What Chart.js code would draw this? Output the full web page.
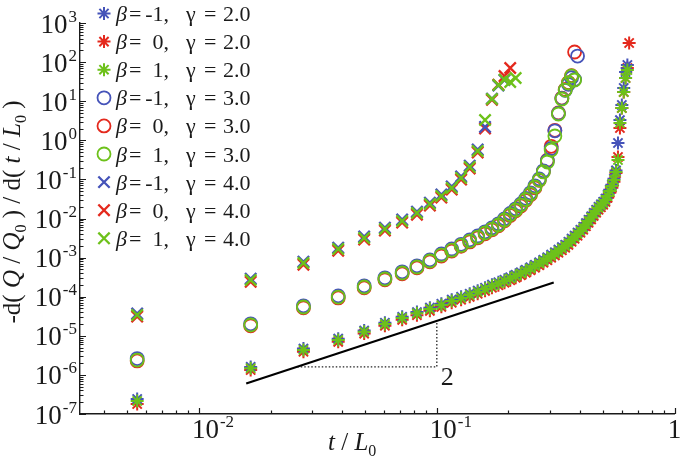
<!DOCTYPE html>
<html>
<head>
<meta charset="utf-8">
<script src="https://cdn.jsdelivr.net/npm/chart.js@4.4.0/dist/chart.umd.min.js"></script>
<style>
  body { margin: 0; background: #fff; }
  #wrap { width: 685px; height: 461px; }
</style>
</head>
<body>
<div id="wrap"><canvas id="chart"></canvas></div>
<script>
// sample times t / L0 (shared by all series)
const tVals = [0.0055, 0.0165, 0.0275, 0.0385, 0.0495, 0.0605, 0.0715, 0.0825, 0.0935, 0.1045,
  0.1155, 0.1265, 0.1375, 0.1485, 0.1595, 0.1705, 0.1815, 0.1925, 0.2035, 0.2145,
  0.2255, 0.2365, 0.2475, 0.2585, 0.2695, 0.2805, 0.2915, 0.3025, 0.3135, 0.3245,
  0.3355, 0.3465, 0.3575, 0.3685, 0.3795, 0.3905, 0.4015, 0.4125, 0.4235, 0.4345,
  0.4455, 0.4565, 0.4675, 0.4785, 0.4895, 0.5005, 0.5115, 0.5225, 0.5335, 0.5445,
  0.5555, 0.5665, 0.5775, 0.5885, 0.5995, 0.6105, 0.6215, 0.6325, 0.6435];

const betaLabels = ['-1', '0', '1'];
const gammaLabels = ['2.0', '3.0', '4.0'];

// gamma = 2.0  (asterisks)
const g2Blue = [2.42e-7, 1.60e-6, 4.70e-6, 8.45e-6, 1.37e-5, 2.16e-5, 3.05e-5, 4.05e-5, 5.25e-5, 6.6e-5,
  8.4e-5, 1.00e-4, 1.19e-4, 1.43e-4, 1.70e-4, 2.03e-4, 2.35e-4, 2.72e-4, 3.15e-4, 3.65e-4,
  4.23e-4, 4.90e-4, 5.68e-4, 6.59e-4, 7.62e-4, 8.83e-4, 1.02e-3, 1.19e-3, 1.37e-3, 1.60e-3,
  1.85e-3, 2.14e-3, 2.55e-3, 3.05e-3, 3.64e-3, 4.34e-3, 5.17e-3, 6.17e-3, 7.6e-3, 9.3e-3,
  1.14e-2, 1.40e-2, 1.68e-2, 2.0e-2, 2.32e-2, 2.69e-2, 3.2e-2, 4.06e-2, 5.45e-2, 7.3e-2,
  0.104, 0.17, 0.853, 3.30, 8.0, 21.8, 55.8, 84.3];
const g2Red = [1.80e-7, 1.33e-6, 3.9e-6, 7.0e-6, 1.14e-5, 1.80e-5, 2.56e-5, 3.37e-5, 4.35e-5, 5.5e-5,
  6.98e-5, 8.34e-5, 9.9e-5, 1.19e-4, 1.41e-4, 1.69e-4, 1.96e-4, 2.27e-4, 2.63e-4, 3.04e-4,
  3.53e-4, 4.09e-4, 4.73e-4, 5.49e-4, 6.35e-4, 7.36e-4, 8.53e-4, 9.9e-4, 1.14e-3, 1.33e-3,
  1.54e-3, 1.78e-3, 2.12e-3, 2.54e-3, 3.03e-3, 3.62e-3, 4.31e-3, 5.14e-3, 6.33e-3, 7.77e-3,
  9.5e-3, 1.17e-2, 1.40e-2, 1.67e-2, 1.94e-2, 2.24e-2, 2.67e-2, 3.38e-2, 4.55e-2, 6.1e-2,
  8.7e-2, 0.145, 0.374, 2.06, 6.7, 17.2, 39.2, 70.6, 308];
const g2Green = [2.15e-7, 1.48e-6, 4.34e-6, 7.81e-6, 1.27e-5, 2.00e-5, 2.85e-5, 3.75e-5, 4.85e-5, 6.1e-5,
  7.76e-5, 9.27e-5, 1.10e-4, 1.32e-4, 1.57e-4, 1.88e-4, 2.18e-4, 2.52e-4, 2.92e-4, 3.38e-4,
  3.92e-4, 4.54e-4, 5.26e-4, 6.10e-4, 7.06e-4, 8.18e-4, 9.48e-4, 1.10e-3, 1.27e-3, 1.48e-3,
  1.71e-3, 1.98e-3, 2.36e-3, 2.82e-3, 3.37e-3, 4.02e-3, 4.79e-3, 5.71e-3, 7.03e-3, 8.63e-3,
  1.06e-2, 1.30e-2, 1.56e-2, 1.86e-2, 2.15e-2, 2.49e-2, 2.97e-2, 3.76e-2, 5.05e-2, 6.78e-2,
  9.66e-2, 0.155, 0.313, 2.77, 6.70, 17.2, 39.2, 62.8];

// gamma = 3.0  (circles)
const g3Blue = [2.62e-6, 2.03e-5, 5.85e-5, 1.05e-4, 1.90e-4, 3.04e-4, 4.32e-4, 6.15e-4, 8.75e-4, 1.24e-3,
  1.66e-3, 2.19e-3, 2.84e-3, 3.58e-3, 4.56e-3, 5.76e-3, 7.3e-3, 9.8e-3, 1.35e-2, 1.77e-2,
  2.36e-2, 3.27e-2, 4.54e-2, 6.85e-2, 0.103, 0.166, 0.30, 0.62, 1.75, 4.9,
  11.8, 19.0, 27.0, 40.0, 36.0, 143];
const g3Red = [2.28e-6, 1.80e-5, 5.2e-5, 9.3e-5, 1.68e-4, 2.70e-4, 3.84e-4, 5.46e-4, 7.77e-4, 1.10e-3,
  1.47e-3, 1.95e-3, 2.52e-3, 3.18e-3, 4.05e-3, 5.11e-3, 6.48e-3, 8.7e-3, 1.20e-2, 1.57e-2,
  2.10e-2, 2.91e-2, 4.03e-2, 6.08e-2, 0.095, 0.16, 0.31, 0.70, 1.80, 5.0,
  12.0, 20.0, 30.0, 45.0, 181];
const g3Green = [2.40e-6, 1.89e-5, 5.46e-5, 9.8e-5, 1.77e-4, 2.84e-4, 4.04e-4, 5.75e-4, 8.18e-4, 1.16e-3,
  1.55e-3, 2.05e-3, 2.65e-3, 3.35e-3, 4.26e-3, 5.38e-3, 6.82e-3, 9.16e-3, 1.26e-2, 1.65e-2,
  2.21e-2, 3.06e-2, 4.24e-2, 6.40e-2, 9.66e-2, 0.155, 0.279, 0.565, 1.29, 4.71,
  11.4, 19.3, 29.2, 44.2, 34.8];

// gamma = 4.0  (crosses)
const g4Blue = [3.7e-5, 2.9e-4, 7.9e-4, 1.8e-3, 3.45e-3, 5.85e-3, 9.4e-3, 1.5e-2, 2.55e-2, 4.1e-2,
  6.6e-2, 0.119, 0.225, 0.58, 2.2, 11.6, 25.0, 34.8];
const g4Red = [3.1e-5, 2.4e-4, 6.6e-4, 1.5e-3, 2.88e-3, 4.9e-3, 7.85e-3, 1.25e-2, 2.14e-2, 3.42e-2,
  5.5e-2, 0.099, 0.19, 0.49, 2.0, 10.8, 26.5, 44, 70.6];
const g4Green = [3.40e-5, 2.67e-4, 7.28e-4, 1.66e-3, 3.17e-3, 5.38e-3, 8.63e-3, 1.38e-2, 2.35e-2, 3.76e-2,
  6.03e-2, 0.109, 0.207, 0.532, 3.30, 11.4, 25.9, 35.5, 31, 39.2];

// slope guide (t^2) and its triangle
const slopeX = [0.0158, 0.31];
const slopeY = [6.0e-7, 2.31e-4];
const triX = [0.0259, 0.1, 0.1];
const triY = [1.61e-6, 1.61e-6, 2.40e-5];
const slopeText = '2';

// axis ticks
const xTickValues = [0.01, 0.1, 1];
const xTickLabels = ['10^-2', '10^-1', '1'];
const yTickValues = [1e-7, 1e-6, 1e-5, 1e-4, 1e-3, 1e-2, 1e-1, 1, 1e1, 1e2, 1e3];
const yTickLabels = ['10^-7', '10^-6', '10^-5', '10^-4', '10^-3', '10^-2', '10^-1', '10^0', '10^1', '10^2', '10^3'];

const colors = ['#4553b9', '#e4291d', '#6dc11a'];
const shapes = ['star', 'circle', 'crossRot'];
const FONT = '"Liberation Serif", "Times New Roman", serif';
const INK = '#1a1a1a';

function markerSet(ys, beta, gamma) {
    var style = shapes[gamma];
    var r = style === 'crossRot' ? 8 : 6.5;
    return {
        label: 'β = ' + betaLabels[beta] + ',  γ = ' + gammaLabels[gamma],
        data: ys.map(function (y, i) { return { x: tVals[i], y: y }; }),
        showLine: false,
        pointStyle: style,
        pointRadius: r,
        pointHoverRadius: r,
        pointBorderWidth: style === 'circle' ? 1.8 : (style === 'star' ? 2 : 2.3),
        borderColor: colors[beta],
        pointBorderColor: colors[beta],
        backgroundColor: style === 'circle' ? 'rgba(0,0,0,0)' : colors[beta],
        pointBackgroundColor: style === 'circle' ? 'rgba(0,0,0,0)' : colors[beta],
        order: [1, 2, 0][beta],
        clip: false
    };
}

function pairs(xs, ys) {
    return xs.map(function (x, i) { return { x: x, y: ys[i] }; });
}

// draws "10^-2" style labels
function powLabel(ctx, label, x, y, align) {
    var parts = label.split('^');
    ctx.font = '27px ' + FONT;
    var wb = ctx.measureText(parts[0]).width;
    ctx.font = '17px ' + FONT;
    var we = parts[1] ? ctx.measureText(parts[1]).width + 1 : 0;
    var x0 = align === 'right' ? x - wb - we : x;
    ctx.textAlign = 'left';
    ctx.font = '27px ' + FONT;
    ctx.fillText(parts[0], x0, y);
    if (parts[1]) {
        ctx.font = '17px ' + FONT;
        ctx.fillText(parts[1], x0 + wb + 1, y - 11);
    }
}

// rich text: pieces of [text, 'n' | 'i' | 's']
function pieceFont(p, size) {
    return (p[1] === 'i' ? 'italic ' : '') + (p[1] === 's' ? Math.round(size * 0.64) : size) + 'px ' + FONT;
}
function richWidth(ctx, parts, size) {
    var w = 0;
    parts.forEach(function (p) {
        ctx.font = pieceFont(p, size);
        w += ctx.measureText(p[0]).width;
    });
    return w;
}
function richText(ctx, parts, x, y, size) {
    var cx = x;
    ctx.textAlign = 'left';
    parts.forEach(function (p) {
        ctx.font = pieceFont(p, size);
        ctx.fillText(p[0], cx, y + (p[1] === 's' ? size * 0.24 : 0));
        cx += ctx.measureText(p[0]).width;
    });
}

const decoPlugin = {
    id: 'deco',
    afterDraw: function (chart) {
        var ctx = chart.ctx;
        var xs = chart.scales.x, ys = chart.scales.y;
        var a = chart.chartArea;
        ctx.save();
        ctx.strokeStyle = INK;
        ctx.fillStyle = INK;
        ctx.lineWidth = 1.2;
        ctx.textBaseline = 'alphabetic';

        // y ticks (inward) + minor
        ctx.beginPath();
        yTickValues.forEach(function (v, i) {
            var py = Math.round(ys.getPixelForValue(v)) + 0.5;
            ctx.moveTo(a.left, py); ctx.lineTo(a.left + 6, py);
            if (i < yTickValues.length - 1) {
                for (var m = 2; m <= 9; m++) {
                    var pm = Math.round(ys.getPixelForValue(v * m)) + 0.5;
                    ctx.moveTo(a.left, pm); ctx.lineTo(a.left + 3.5, pm);
                }
            }
        });
        // x ticks (inward) + minor
        xTickValues.forEach(function (v) {
            var px = Math.round(xs.getPixelForValue(v)) + 0.5;
            ctx.moveTo(px, a.bottom); ctx.lineTo(px, a.bottom - 6);
            for (var m = 2; m <= 9; m++) {
                var val = v * m / 10;
                if (val <= xs.min) continue;
                var pm = Math.round(xs.getPixelForValue(val)) + 0.5;
                ctx.moveTo(pm, a.bottom); ctx.lineTo(pm, a.bottom - 3.5);
            }
        });
        ctx.stroke();

        // tick labels
        yTickValues.forEach(function (v, i) {
            powLabel(ctx, yTickLabels[i], a.left - 3, ys.getPixelForValue(v) + 9.5, 'right');
        });
        xTickValues.forEach(function (v, i) {
            powLabel(ctx, xTickLabels[i], xs.getPixelForValue(v) - 7, a.bottom + 24, 'left');
        });

        // axis titles
        var xt = [['t', 'i'], [' / ', 'n'], ['L', 'i'], ['0', 's']];
        richText(ctx, xt, 328, 450, 25);

        var yt = [['-d( ', 'n'], ['Q', 'i'], [' / ', 'n'], ['Q', 'i'], ['0', 's'], [' ) / d( ', 'n'],
                  ['t', 'i'], [' / ', 'n'], ['L', 'i'], ['0', 's'], [' )', 'n']];
        var yw = richWidth(ctx, yt, 25);
        ctx.save();
        ctx.translate(20, 212);
        ctx.rotate(-Math.PI / 2);
        richText(ctx, yt, -yw / 2, 0, 25);
        ctx.restore();

        // slope label
        ctx.font = '26px ' + FONT;
        ctx.textAlign = 'left';
        ctx.fillText(slopeText, xs.getPixelForValue(triX[2]) + 4, ys.getPixelForValue(triY[1]) + 18);

        // legend
        chart.data.datasets.forEach(function (ds) {
            if (ds.legendBeta === undefined) return;
            var rowY = 13.5 + 28.1 * ds.legendRow;
            ctx.save();
            ctx.strokeStyle = ds.pointBorderColor;
            ctx.fillStyle = ds.pointBackgroundColor;
            ctx.lineWidth = ds.pointBorderWidth;
            Chart.helpers.drawPoint(ctx, {
                pointStyle: ds.pointStyle, rotation: 0,
                radius: ds.pointRadius, borderWidth: ds.pointBorderWidth
            }, 104, rowY);
            ctx.restore();
            ctx.fillStyle = INK;
            var base = rowY + 7.5;
            ctx.textAlign = 'left';
            ctx.font = 'italic 22px ' + FONT;
            ctx.fillText('β', 116, base);
            ctx.font = '22px ' + FONT;
            ctx.fillText('=', 129, base);
            ctx.textAlign = 'right';
            ctx.fillText(betaLabels[ds.legendBeta] + ',', 169, base);
            ctx.textAlign = 'left';
            ctx.fillText('γ', 186, base);
            ctx.fillText('=', 204, base);
            ctx.fillText(gammaLabels[ds.legendGamma], 223, base);
        });
        ctx.restore();
    }
};

var datasets = [];
var groups = [[g2Blue, g2Red, g2Green], [g3Blue, g3Red, g3Green], [g4Blue, g4Red, g4Green]];
groups.forEach(function (g, gamma) {
    g.forEach(function (ys, beta) {
        var ds = markerSet(ys, beta, gamma);
        ds.legendBeta = beta;
        ds.legendGamma = gamma;
        ds.legendRow = gamma * 3 + beta;
        datasets.push(ds);
    });
});
datasets.push({
    label: 'slope',
    data: pairs(slopeX, slopeY),
    showLine: true, pointRadius: 0, borderColor: '#000', borderWidth: 2.2, order: -1
});
datasets.push({
    label: 'triangle',
    data: pairs(triX, triY),
    showLine: true, pointRadius: 0, borderColor: '#222', borderWidth: 1.3,
    borderDash: [1.5, 2], order: -1
});

var chartArea = document.getElementById('chart').getContext('2d');
var chart = new Chart(chartArea, {
    type: 'scatter',
    data: { datasets: datasets },
    options: {
        responsive: true,
        maintainAspectRatio: false,
        animation: false,
        layout: { padding: { left: 0, right: 7, top: 23, bottom: 0 } },
        scales: {
            x: {
                type: 'logarithmic',
                min: Math.pow(10, -2.5),
                max: 1,
                ticks: { display: false },
                grid: { display: false },
                border: { color: INK, width: 1.4 },
                afterFit: function (s) { s.height = 47; }
            },
            y: {
                type: 'logarithmic',
                min: 1e-7,
                max: 1e3,
                ticks: { display: false },
                grid: { display: false },
                border: { color: INK, width: 1.4 },
                afterFit: function (s) { s.width = 80; }
            }
        },
        plugins: {
            legend: { display: false },
            tooltip: { enabled: false }
        }
    },
    plugins: [decoPlugin]
});
</script>
</body>
</html>
